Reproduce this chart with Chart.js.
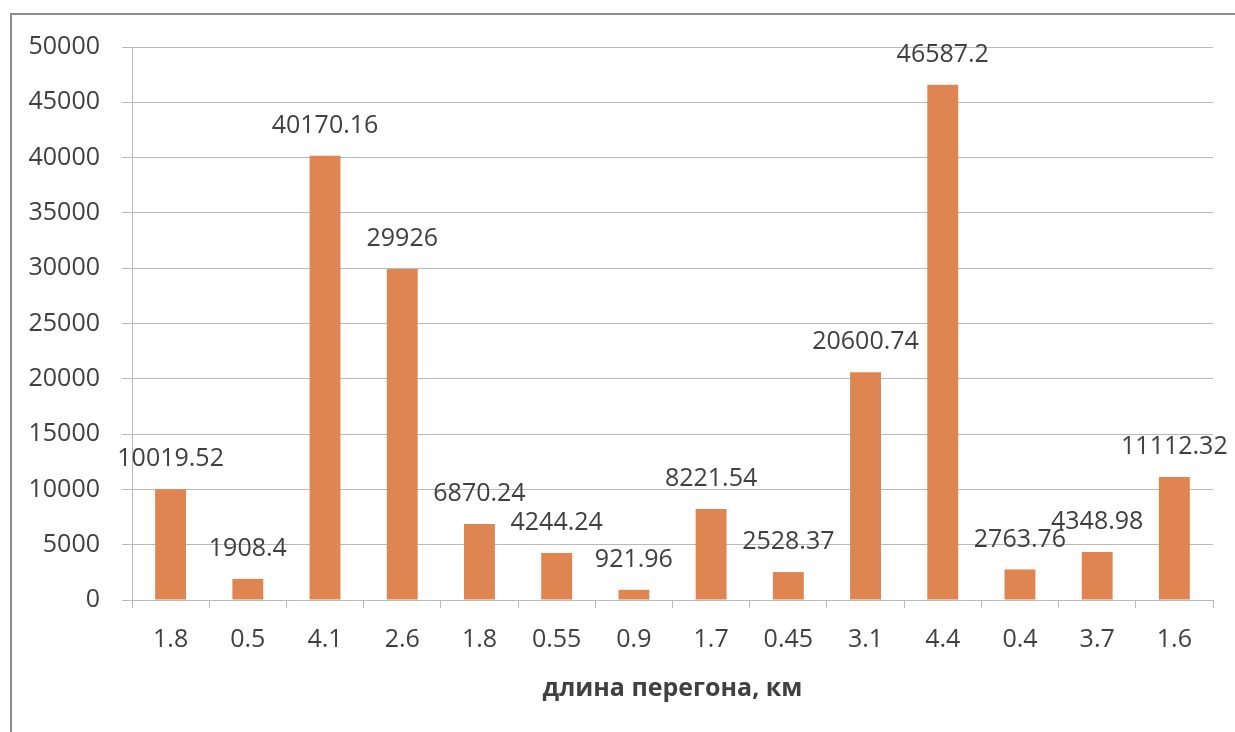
<!DOCTYPE html>
<html>
<head>
<meta charset="utf-8">
<script src="https://cdn.jsdelivr.net/npm/chart.js@4"></script>
<style>
html,body{margin:0;padding:0;background:#fff;}
#wrap{width:1235px;height:732px;position:relative;}
</style>
</head>
<body>
<div id="wrap"><canvas id="c" width="1235" height="732"></canvas></div>
<script>
const categories = ["1.8","0.5","4.1","2.6","1.8","0.55","0.9","1.7","0.45","3.1","4.4","0.4","3.7","1.6"];
const values = [10019.52,1908.4,40170.16,29926,6870.24,4244.24,921.96,8221.54,2528.37,20600.74,46587.2,2763.76,4348.98,11112.32];
const yTicks = [0,5000,10000,15000,20000,25000,30000,35000,40000,45000,50000];
const xTitle = "длина перегона, км";

const FONT = "'Open Sans', 'Liberation Sans', sans-serif";
const TXT = "#404040";
const GRID = "#b9b9b9";

const frame = {
  id: 'frame',
  beforeDraw(chart) {
    const ctx = chart.ctx;
    ctx.save();
    ctx.fillStyle = '#fff';
    ctx.fillRect(0,0,chart.width,chart.height);
    ctx.strokeStyle = '#8c8c8c';
    ctx.lineWidth = 2;
    ctx.beginPath();
    ctx.moveTo(11, chart.height);
    ctx.lineTo(11, 14);
    ctx.lineTo(chart.width, 14);
    ctx.stroke();
    ctx.restore();
  }
};

const dataLabels = {
  id: 'dataLabels',
  afterDatasetsDraw(chart) {
    const ctx = chart.ctx;
    ctx.save();
    ctx.font = "25px " + FONT;
    ctx.fillStyle = TXT;
    ctx.textAlign = 'center';
    ctx.textBaseline = 'middle';
    const meta = chart.getDatasetMeta(0);
    meta.data.forEach((bar, i) => {
      ctx.fillText(String(values[i]), bar.x, bar.y - 30);
    });
    ctx.restore();
  }
};

new Chart(document.getElementById('c'), {
  type: 'bar',
  data: {
    labels: categories,
    datasets: [{
      data: values,
      backgroundColor: '#de8552',
      borderWidth: 0,
      barPercentage: 0.4,
      categoryPercentage: 1.0
    }]
  },
  options: {
    responsive: false,
    animation: false,
    devicePixelRatio: 1,
    layout: { padding: { top: 47, right: 22, bottom: 0, left: 0 } },
    plugins: { legend: { display: false }, tooltip: { enabled: false } },
    scales: {
      x: {
        offset: true,
        grid: { offset: true, drawOnChartArea: false, drawTicks: true, tickLength: 8, color: GRID, lineWidth: 1 },
        border: { display: true, color: GRID, width: 1 },
        ticks: { color: TXT, font: { family: FONT, size: 25 }, padding: 17, maxRotation: 0, autoSkip: false },
        title: { display: true, text: xTitle, color: TXT, font: { family: FONT, size: 25, weight: 'bold' }, padding: { top: 0, bottom: 28 } },
        afterFit(scale) { scale.height = 132; }
      },
      y: {
        min: 0, max: 50000,
        afterBuildTicks(scale) { scale.ticks = yTicks.map(v => ({ value: v })); },
        grid: { color: GRID, lineWidth: 1, drawTicks: true, tickLength: 10 },
        border: { display: true, color: GRID, width: 1 },
        ticks: { color: TXT, font: { family: FONT, size: 25 }, padding: 22, callback: v => String(v) },
        afterFit(scale) { scale.width = 132; }
      }
    }
  },
  plugins: [frame, dataLabels]
});
</script>
</body>
</html>
